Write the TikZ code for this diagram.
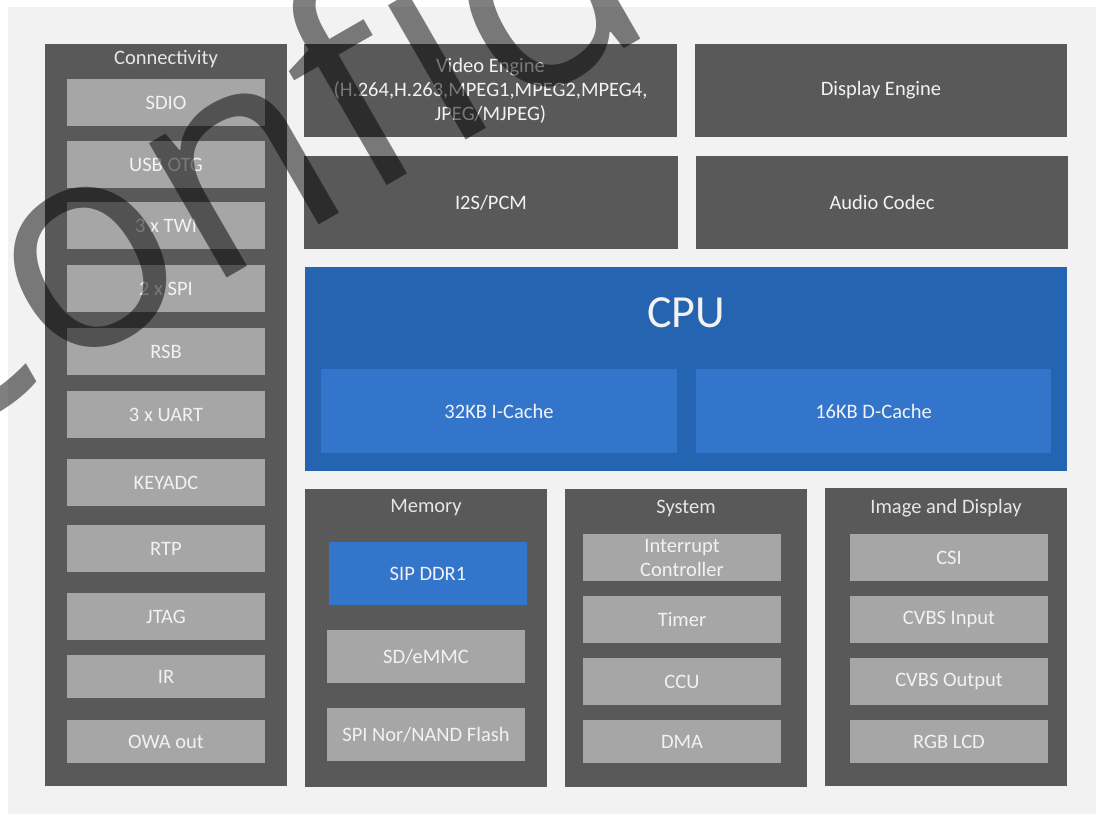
\documentclass[tikz,border=0pt]{standalone}
\usepackage{fontspec}
\setmainfont{Carlito}
\newfontfamily\wmfont[Ligatures=NoCommon]{Open Sans}
\definecolor{bgc}{HTML}{F2F2F2}
\definecolor{panelc}{HTML}{595959}
\definecolor{lightc}{HTML}{A6A6A6}
\definecolor{cpuc}{RGB}{37,100,177}
\definecolor{cachec}{RGB}{52,117,204}
\definecolor{txtc}{HTML}{F2F2F2}
\definecolor{titlec}{HTML}{E6E6E6}
\newcommand\boxat[7]{\node[#6, minimum width={#4-#2}, minimum height={#5-#3}] (#1) at ({(#2+#4)/2},{(#3+#5)/2}) {#7};}
\begin{document}
\begin{tikzpicture}[x=1pt,y=-1pt,
  base/.style={inner sep=0pt, outer sep=0pt, draw=none, text=txtc, align=center,
    font=\fontsize{20.5}{24}\selectfont},
  panel/.style={base, fill=panelc},
  lbox/.style={base, fill=lightc},
  cpubox/.style={base, fill=cpuc},
  cache/.style={base, fill=cachec},
  title/.style={base, text=titlec},
  cputitle/.style={base, font=\fontsize{46}{50}\selectfont},
  watermark/.style={inner sep=0pt, text=black, text opacity=0.5,
    font=\wmfont\fontsize{290}{300}\selectfont}]
\useasboundingbox (0,0) rectangle (1096,814);
\fill[bgc] (8,7) rectangle (1096,814);
% top engines
\boxat{video}{304}{44}{677}{137}{panel}{Video Engine\\(H.264,H.263,MPEG1,MPEG2,MPEG4,\\JPEG/MJPEG)}
\boxat{display}{695}{44}{1067}{137}{panel}{Display Engine}
\boxat{i2s}{304}{156}{678}{249}{panel}{I2S/PCM}
\boxat{audio}{696}{156}{1068}{249}{panel}{Audio Codec}
% CPU
\boxat{cpu}{305}{267}{1067}{471}{cpubox}{}
\node[cputitle] (cputxt) at (686,313) {CPU};
\boxat{icache}{321}{369}{677}{453}{cache}{32KB I-Cache}
\boxat{dcache}{696}{369}{1051}{453}{cache}{16KB D-Cache}
% Connectivity
\boxat{conn}{45}{44}{287}{786}{panel}{}
\node[title] (conntitle) at (166,59) {Connectivity};
\boxat{sdio}{67}{79}{265}{126}{lbox}{SDIO}
\boxat{usb}{67}{141}{265}{188}{lbox}{USB OTG}
\boxat{twi}{67}{202}{265}{249}{lbox}{3 x TWI}
\boxat{spi}{67}{265}{265}{312}{lbox}{2 x SPI}
\boxat{rsb}{67}{328}{265}{375}{lbox}{RSB}
\boxat{uart}{67}{391}{265}{438}{lbox}{3 x UART}
\boxat{keyadc}{67}{459}{265}{506}{lbox}{KEYADC}
\boxat{rtp}{67}{525}{265}{572}{lbox}{RTP}
\boxat{jtag}{67}{593}{265}{640}{lbox}{JTAG}
\boxat{ir}{67}{655}{265}{698}{lbox}{IR}
\boxat{owa}{67}{720}{265}{763}{lbox}{OWA out}
% Memory
\boxat{mem}{305}{489}{547}{787}{panel}{}
\node[title] (memtitle) at (426,508) {Memory};
\boxat{ddr}{329}{542}{527}{605}{cache}{SIP DDR1}
\boxat{emmc}{327}{630}{525}{683}{lbox}{SD/eMMC}
\boxat{flash}{327}{708}{525}{761}{lbox}{SPI Nor/NAND Flash}
% System
\boxat{sys}{565}{489}{807}{787}{panel}{}
\node[title] (systitle) at (686,508) {System};
\boxat{intc}{583}{534}{781}{581}{lbox}{Interrupt\\Controller}
\boxat{timer}{583}{596}{781}{643}{lbox}{Timer}
\boxat{ccu}{583}{658}{781}{705}{lbox}{CCU}
\boxat{dma}{583}{720}{781}{763}{lbox}{DMA}
% Image and Display
\boxat{imgd}{825}{488}{1067}{786}{panel}{}
\node[title] (imgtitle) at (946,508) {Image and Display};
\boxat{csi}{850}{534}{1048}{581}{lbox}{CSI}
\boxat{cvbsin}{850}{596}{1048}{643}{lbox}{CVBS Input}
\boxat{cvbsout}{850}{658}{1048}{705}{lbox}{CVBS Output}
\boxat{rgb}{850}{720}{1048}{763}{lbox}{RGB LCD}
% watermark
\begin{scope}
\clip (0,0) rectangle (1096,814);
\node[watermark, rotate=30, anchor=base west] (wm) at (-105,470) {Confidential};
\end{scope}
\end{tikzpicture}
\end{document}
